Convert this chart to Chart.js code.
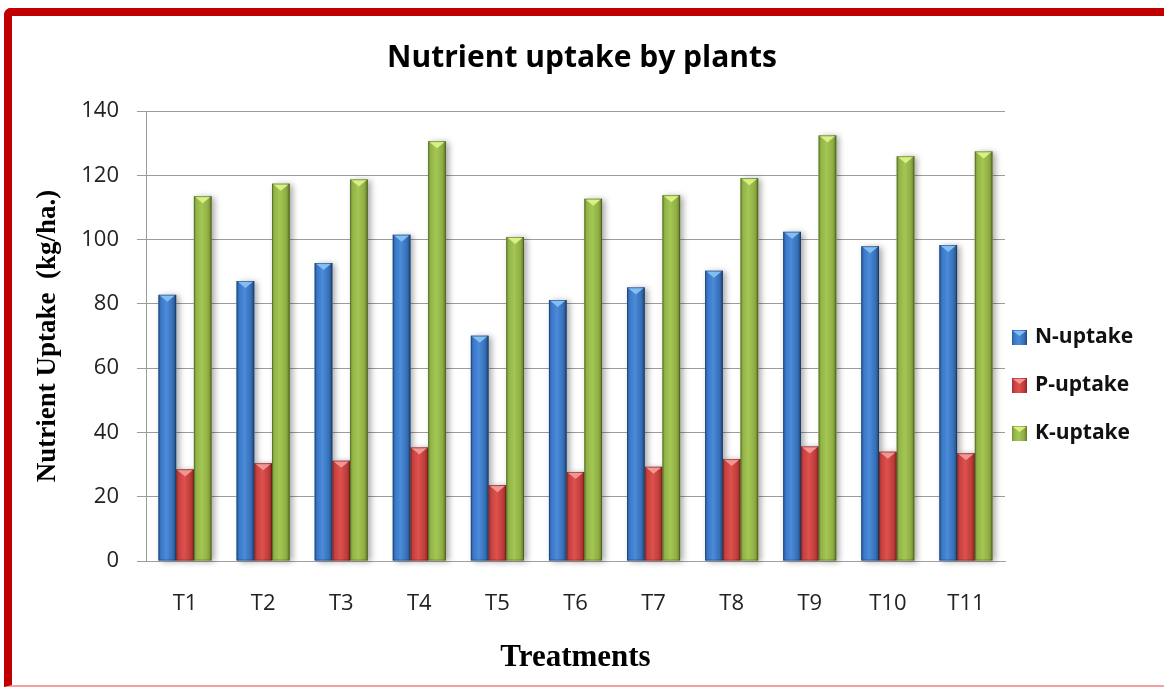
<!DOCTYPE html>
<html>
<head>
<meta charset="utf-8">
<title>Nutrient uptake by plants</title>
<script src="https://cdn.jsdelivr.net/npm/chart.js@4.4.1/dist/chart.umd.min.js"></script>
<style>
    html, body { margin: 0; padding: 0; background: #fff; overflow: hidden; }
    #frame {
        position: absolute; left: 4px; top: 8px; width: 1200px; height: 679px;
        box-sizing: border-box;
        border-left: 8px solid #c00000; border-top: 8px solid #c00000;
        border-bottom: 2px solid #f2a0a0;
        border-top-left-radius: 7px;
    }
    #chart { position: absolute; left: 0; top: 0; }
</style>
</head>
<body>
<div id="frame"></div>
<canvas id="chart" width="1164" height="687"></canvas>
<script>
// dados
const treatments = ['T1', 'T2', 'T3', 'T4', 'T5', 'T6', 'T7', 'T8', 'T9', 'T10', 'T11'];
const nUptake = [82.8, 87.1, 92.7, 101.5, 70.1, 81.2, 85.1, 90.3, 102.4, 97.9, 98.3];
const pUptake = [28.5, 30.4, 31.2, 35.3, 23.6, 27.7, 29.3, 31.7, 35.6, 34.0, 33.5];
const kUptake = [113.5, 117.4, 118.7, 130.6, 100.8, 112.7, 113.8, 119.1, 132.4, 125.9, 127.4];
const yTicks = [0, 20, 40, 60, 80, 100, 120, 140];

// cores de cada serie (gradiente horizontal + topo claro)
const shades = [
    { base: '#4080cc', cap: '#82bdf4',
      stops: [[0, '#2a5a97'], [0.15, '#3a78c9'], [0.45, '#4b8bd9'], [0.8, '#3670b8'], [1, '#224879']] },
    { base: '#cc4542', cap: '#f39592',
      stops: [[0, '#9e3331'], [0.15, '#c8413e'], [0.45, '#dd514e'], [0.8, '#bf3d3a'], [1, '#8a2927']] },
    { base: '#99bb4b', cap: '#d8f084',
      stops: [[0, '#749336'], [0.15, '#93b548'], [0.45, '#a4c654'], [0.8, '#8fae43'], [1, '#627a2a']] }
];

function barGradient(ctx, left, width, stops) {
    const g = ctx.createLinearGradient(left, 0, left + width, 0);
    stops.forEach(function (s) { g.addColorStop(s[0], s[1]); });
    return g;
}

// sombra atras das barras
const barShadow = {
    id: 'barShadow',
    beforeDatasetsDraw: function (chart) {
        const ctx = chart.ctx;
        ctx.save();
        ctx.shadowColor = 'rgba(0,0,0,0.35)';
        ctx.shadowBlur = 6;
        ctx.shadowOffsetX = 3;
        ctx.shadowOffsetY = 1;
        ctx.fillStyle = 'rgba(255,255,255,1)';
        chart.data.datasets.forEach(function (ds, i) {
            chart.getDatasetMeta(i).data.forEach(function (el) {
                const p = el.getProps(['x', 'y', 'base', 'width'], true);
                ctx.fillRect(p.x - p.width / 2, p.y, p.width, p.base - p.y);
            });
        });
        ctx.restore();
    }
};

// efeito 3D por cima das barras
const barBevel = {
    id: 'barBevel',
    afterDatasetsDraw: function (chart) {
        const ctx = chart.ctx;
        ctx.save();
        chart.data.datasets.forEach(function (ds, i) {
            const sh = shades[i];
            chart.getDatasetMeta(i).data.forEach(function (el) {
                const p = el.getProps(['x', 'y', 'base', 'width'], true);
                const left = p.x - p.width / 2;
                ctx.fillStyle = barGradient(ctx, left, p.width, sh.stops);
                ctx.fillRect(left, p.y, p.width, p.base - p.y);
                // topo
                ctx.fillStyle = sh.cap;
                ctx.beginPath();
                ctx.moveTo(left + 1, p.y + 0.5);
                ctx.lineTo(left + p.width - 1, p.y + 0.5);
                ctx.lineTo(p.x, p.y + 7);
                ctx.closePath();
                ctx.fill();
                ctx.strokeStyle = 'rgba(0,0,0,0.25)';
                ctx.lineWidth = 1;
                ctx.strokeRect(left + 0.5, p.y + 0.5, p.width - 1, p.base - p.y - 1);
            });
        });
        ctx.restore();
    }
};

// legenda desenhada a direita
const sideLegend = {
    id: 'sideLegend',
    afterDraw: function (chart) {
        const ctx = chart.ctx;
        ctx.save();
        ctx.font = 'bold 21px "Open Sans"';
        ctx.textBaseline = 'middle';
        ctx.textAlign = 'left';
        chart.data.datasets.forEach(function (ds, i) {
            const cy = 337 + i * 48;
            const sh = shades[i];
            ctx.fillStyle = barGradient(ctx, 1012, 15, sh.stops);
            ctx.fillRect(1012, cy - 7, 15, 15);
            ctx.fillStyle = sh.cap;
            ctx.beginPath();
            ctx.moveTo(1013, cy - 6);
            ctx.lineTo(1026, cy - 6);
            ctx.lineTo(1019.5, cy - 1);
            ctx.closePath();
            ctx.fill();
            ctx.fillStyle = '#111';
            ctx.fillText(ds.label, 1035, cy);
        });
        ctx.restore();
    }
};

const config = {
    type: 'bar',
    data: {
        labels: treatments,
        datasets: [
            { label: 'N-uptake', data: nUptake, backgroundColor: shades[0].base },
            { label: 'P-uptake', data: pUptake, backgroundColor: shades[1].base },
            { label: 'K-uptake', data: kUptake, backgroundColor: shades[2].base }
        ]
    },
    options: {
        responsive: false,
        animation: false,
        categoryPercentage: 0.68,
        barPercentage: 1.0,
        layout: { padding: { top: 16, right: 0, bottom: 0, left: 0 } },
        plugins: {
            legend: { display: false },
            tooltip: { enabled: false },
            title: {
                display: true,
                text: 'Nutrient uptake by plants',
                color: '#000',
                font: { family: '"Open Sans"', size: 30, weight: 'bold' },
                padding: { top: 24, bottom: 35 }
            }
        },
        scales: {
            x: {
                grid: { display: false, drawTicks: false },
                border: { display: true, color: '#a0a0a0', width: 1 },
                ticks: { color: '#222', padding: 30, font: { family: '"Open Sans"', size: 22 } },
                title: {
                    display: true,
                    text: 'Treatments',
                    color: '#000',
                    font: { family: '"Liberation Serif"', size: 31, weight: 'bold' },
                    padding: { top: 0, bottom: 10 }
                },
                afterFit: function (scale) { scale.height = 126; }
            },
            y: {
                min: 0,
                max: 140,
                afterBuildTicks: function (scale) {
                    scale.ticks = yTicks.map(function (v) { return { value: v }; });
                },
                grid: { color: '#9c9c9c', lineWidth: 1, tickLength: 9 },
                border: { display: true, color: '#9c9c9c', width: 1 },
                ticks: { color: '#222', padding: 18, font: { family: '"Open Sans"', size: 22 } },
                title: {
                    display: true,
                    text: 'Nutrient Uptake  (kg/ha.)',
                    color: '#000',
                    font: { family: '"Liberation Serif"', size: 27, weight: 'bold' },
                    padding: { top: 32, bottom: 0 }
                },
                afterFit: function (scale) { scale.width = 146; }
            },
            // eixo vazio so para reservar o espaco da legenda
            legendSpace: {
                type: 'linear',
                position: 'right',
                grid: { display: false, drawTicks: false },
                border: { display: false },
                ticks: { display: false },
                afterFit: function (scale) { scale.width = 159; }
            }
        }
    },
    plugins: [barShadow, barBevel, sideLegend]
};

var ctx = document.getElementById('chart').getContext('2d');
new Chart(ctx, config);
</script>
</body>
</html>
